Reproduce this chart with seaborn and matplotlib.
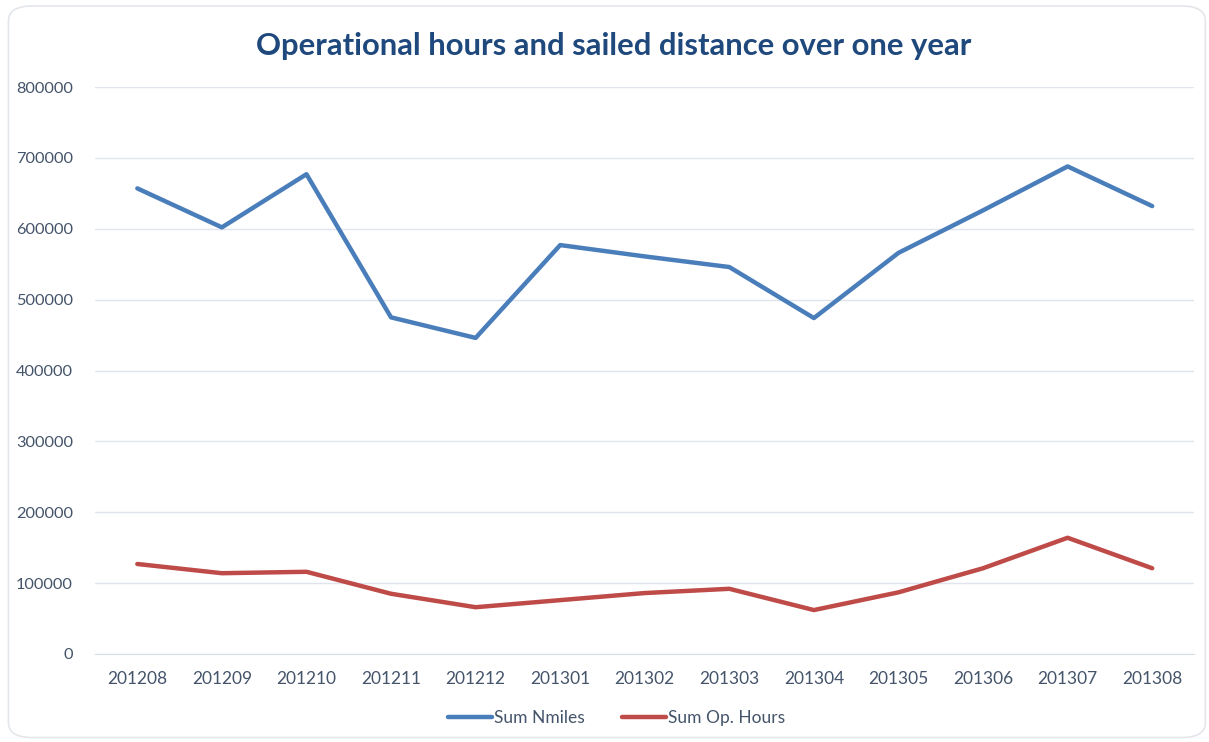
import numpy as np
import pandas as pd
import matplotlib.pyplot as plt
import seaborn as sns
from matplotlib.patches import FancyBboxPatch
from matplotlib.ticker import FixedLocator

months = ['201208', '201209', '201210', '201211', '201212', '201301', '201302',
          '201303', '201304', '201305', '201306', '201307', '201308']
nmiles = [657000, 602000, 677000, 475000, 446000, 577000, 561000,
          546000, 474000, 566000, 626000, 688000, 632000]
op_hours = [127000, 114000, 116000, 85000, 66000, 76000, 86000,
            92000, 62000, 87000, 121000, 164000, 121000]
y_ticks = [0, 100000, 200000, 300000, 400000, 500000, 600000, 700000, 800000]

df = pd.DataFrame({
    'month': months * 2,
    'value': nmiles + op_hours,
    'series': ['Sum Nmiles'] * len(months) + ['Sum Op. Hours'] * len(months),
})

sns.set_style('white')
plt.rcParams['font.family'] = ['Lato', 'DejaVu Sans']

fig = plt.figure(figsize=(12.09, 7.42), dpi=100)
ax = fig.add_axes([0.0786, 0.1186, 0.9094, 0.7641])

# rounded frame around the whole chart
frame = FancyBboxPatch((0.007, 0.006), 0.99, 0.986, boxstyle='round,pad=0,rounding_size=0.02',
                       transform=fig.transFigure, facecolor='none', edgecolor='#e3e6ea', lw=1.2)
fig.patches.append(frame)

palette = {'Sum Nmiles': '#4A7EBB', 'Sum Op. Hours': '#BE4B48'}
sns.lineplot(data=df, x='month', y='value', hue='series', palette=palette,
             linewidth=3.2, sort=False, ax=ax, legend=False)

ax.set_xlim(-0.5, len(months) - 0.5)
ax.set_ylim(0, 800000)
ax.set_yticks(y_ticks)
ax.set_yticklabels([str(v) for v in y_ticks])
ax.yaxis.grid(True, color='#dfe4ee', lw=1)
ax.set_axisbelow(True)
ax.set_xlabel('')
ax.set_ylabel('')

for s in ['top', 'right', 'left']:
    ax.spines[s].set_visible(False)
ax.spines['bottom'].set_color('#d9dde6')

ax.xaxis.set_minor_locator(FixedLocator(np.arange(-0.5, len(months), 1)))
ax.tick_params(axis='x', which='minor', length=5, color='#d9dde6', direction='out')
ax.tick_params(axis='x', which='major', length=0, pad=12, labelsize=12.5, labelcolor='#44546A')
ax.tick_params(axis='y', length=0, pad=16, labelsize=11.8, labelcolor='#44546A')

fig.suptitle('Operational hours and sailed distance over one year', x=0.508, y=0.957,
             fontsize=22.3, fontweight='bold', color='#1F497D')

handles = [plt.Line2D([], [], color=palette[k], lw=3.2) for k in palette]
fig.legend(handles, list(palette.keys()), loc='center', bbox_to_anchor=(0.51, 0.032),
           ncol=2, frameon=False, fontsize=12.5, handlelength=2.5, handletextpad=0.1,
           columnspacing=2.2, labelcolor='#44546A')

fig.savefig('out.png', dpi=100)
